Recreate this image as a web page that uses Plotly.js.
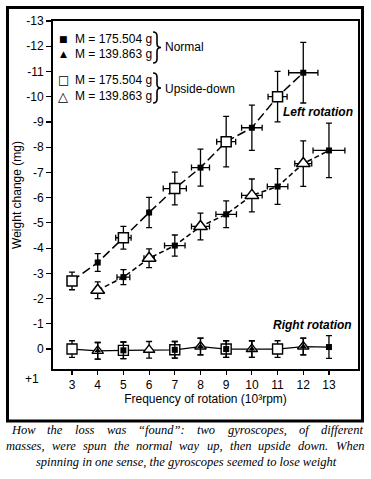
<!DOCTYPE html>
<html>
<head>
<meta charset="utf-8">
<script src="https://cdn.plot.ly/plotly-3.0.1.min.js"></script>
<style>
html,body{margin:0;padding:0;background:#fff;}
#chart{width:371px;height:479px;}
</style>
</head>
<body>
<div id="chart"></div>
<script>
// ---------- data ----------
// Left rotation, heavier gyroscope (M = 175.504 g)
const upNormalX = [4, 6, 8, 10, 12];
const upNormalY = [-3.43, -5.41, -7.19, -8.77, -10.95];
const upNormalErrY = [0.35, 0.6, 0.73, 0.9, 1.2];
const upNormalErrX = [0, 0, 0.35, 0.4, 0.57];
const upInvX = [3, 5, 7, 9, 11];
const upInvY = [-2.70, -4.41, -6.36, -8.22, -10.0];
const upInvErrY = [0.35, 0.45, 0.65, 1.0, 1.0];
const upInvErrX = [0, 0.3, 0.45, 0.37, 0.37];
// Left rotation, lighter gyroscope (M = 139.863 g)
const loNormalX = [5, 7, 9, 11, 13];
const loNormalY = [-2.85, -4.1, -5.34, -6.44, -7.87];
const loNormalErrY = [0.3, 0.42, 0.53, 0.71, 1.08];
const loNormalErrX = [0.25, 0.4, 0.4, 0.4, 0.62];
const loInvX = [4, 6, 8, 10, 12];
const loInvY = [-2.33, -3.6, -4.86, -6.09, -7.35];
const loInvErrY = [0.33, 0.37, 0.53, 0.65, 0.9];
const loInvErrX = [0, 0.2, 0.35, 0.4, 0.33];
// Right rotation (no change)
const rightX = [3, 4, 5, 6, 7, 8, 9, 10, 11, 12, 13];
const rightY = [0, 0.07, 0.05, 0.03, 0.03, -0.1, 0, 0, 0, -0.1, -0.08];
const rightErrY = [0.33, 0.33, 0.33, 0.33, 0.33, 0.33, 0.33, 0.33, 0.33, 0.33, 0.45];
const rightOpenX = [3, 4, 5, 6, 7, 8, 9, 10, 11, 12];
const rightFilledX = [4, 5, 7, 8, 9, 10, 12, 13];
// ticks
const xTicks = [3, 4, 5, 6, 7, 8, 9, 10, 11, 12, 13];
const yTickVals = [-13, -12, -11, -10, -9, -8, -7, -6, -5, -4, -3, -2, -1, 0];
const yTickText = ['-13', '-12', '-11', '-10', '-9', '-8', '-7', '-6', '-5', '-4', '-3', '-2', '-1', '0'];
const legendMasses = ['M = 175.504 g', 'M = 139.863 g'];
const captionLines = [
  'How the loss was \u201cfound\u201d: two gyroscopes, of different',
  'masses, were spun the normal way up, then upside down. When',
  'spinning in one sense, the gyroscopes seemed to lose weight'
];

// ---------- helpers ----------
const M = {l: 53, r: 13, t: 21, b: 110};
const W = 371, H = 479;
const PW = W - M.l - M.r, PH = H - M.t - M.b;
const px = x => (x - M.l) / PW;
const py = y => (H - M.b - y) / PH;

function merge(ax, ay, bx, by) {
  const pts = ax.map((x, i) => [x, ay[i]]).concat(bx.map((x, i) => [x, by[i]]));
  pts.sort((a, b) => a[0] - b[0]);
  return {x: pts.map(p => p[0]), y: pts.map(p => p[1])};
}
function pick(xs, allX, vals) { return xs.map(x => vals[allX.indexOf(x)]); }

const K = 'black';
function errY(arr) { return {type: 'data', array: arr, visible: true, color: K, thickness: 1.3, width: 3}; }
function errX(arr) { return {type: 'data', array: arr, visible: true, color: K, thickness: 1.3, width: 3}; }

const upLine = merge(upInvX, upInvY, upNormalX, upNormalY);
const loLine = merge(loInvX, loInvY, loNormalX, loNormalY);

const traces = [
  {x: upLine.x, y: upLine.y, mode: 'lines', line: {color: K, width: 1.5, dash: '9px,4px'}, hoverinfo: 'skip'},
  {x: loLine.x, y: loLine.y, mode: 'lines', line: {color: K, width: 1.5, dash: '5px,3px'}, hoverinfo: 'skip'},
  {x: rightX, y: rightY, mode: 'lines', line: {color: K, width: 1.3}, hoverinfo: 'skip'},
  // left rotation markers
  {x: upInvX, y: upInvY, mode: 'markers', error_y: errY(upInvErrY), error_x: errX(upInvErrX),
   marker: {symbol: 'square', size: 10, color: 'white', line: {color: K, width: 1.5}}},
  {x: upNormalX, y: upNormalY, mode: 'markers', error_y: errY(upNormalErrY), error_x: errX(upNormalErrX),
   marker: {symbol: 'square', size: 6, color: K}},
  {x: loInvX, y: loInvY, mode: 'markers', error_y: errY(loInvErrY), error_x: errX(loInvErrX),
   marker: {symbol: 'triangle-up', size: 12, color: 'white', line: {color: K, width: 1.5}}},
  {x: loNormalX, y: loNormalY, mode: 'markers', error_y: errY(loNormalErrY), error_x: errX(loNormalErrX),
   marker: {symbol: 'square', size: 6, color: K}},
  // right rotation markers
  {x: rightOpenX, y: pick(rightOpenX, rightX, rightY), mode: 'markers',
   error_y: errY(pick(rightOpenX, rightX, rightErrY)),
   marker: {symbol: rightOpenX.map(x => x % 2 ? 'square' : 'triangle-up'), size: 10, color: 'white', line: {color: K, width: 1.4}}},
  {x: rightFilledX, y: pick(rightFilledX, rightX, rightY), mode: 'markers',
   error_y: errY(pick(rightFilledX, rightX, rightErrY)),
   marker: {symbol: rightFilledX.map(x => x % 2 ? 'square' : 'triangle-up'), size: 6, color: K}}
];

const FONT = 'Liberation Sans, Arial, sans-serif';
const ann = [];
function txt(text, x, y, opts) {
  ann.push(Object.assign({xref: 'paper', yref: 'paper', x: px(x), y: py(y), text: text, showarrow: false,
    xanchor: 'left', yanchor: 'middle', font: {family: FONT, size: 12, color: K}}, opts || {}));
}
// legend
txt('\u25A0', 63, 39, {xanchor: 'center', borderpad: 0, font: {family: 'DejaVu Sans', size: 9, color: K}});
txt('\u25B2', 63, 54, {xanchor: 'center', borderpad: 0, font: {family: 'DejaVu Sans', size: 9, color: K}});
txt('\u25A1', 63, 80, {xanchor: 'center', borderpad: 0, font: {family: 'DejaVu Sans', size: 12, color: K}});
txt('\u25B3', 63, 96, {xanchor: 'center', borderpad: 0, font: {family: 'DejaVu Sans', size: 13, color: K}});
txt(legendMasses[0], 73, 39);
txt(legendMasses[1], 73, 54);
txt(legendMasses[0], 73, 80);
txt(legendMasses[1], 73, 96);
txt('Normal', 163, 47);
txt('Upside-down', 163, 89);
txt('<b><i>Left rotation</i></b>', 281, 112);
txt('<b><i>Right rotation</i></b>', 271, 325);
txt('+1', 41, 379, {xanchor: 'right'});

// caption (justified)
const capSize = 12.5;
const cv = document.createElement('canvas').getContext('2d');
function wTxt(s, size) { cv.font = 'italic ' + size + 'px "Liberation Serif"'; return cv.measureText(s).width; }
function justify(line, left, right, yPx) {
  const words = line.split(' ');
  const ws = words.map(w => wTxt(w, capSize));
  const gap = (right - left - ws.reduce((a, b) => a + b, 0)) / (words.length - 1);
  let x = left;
  words.forEach((w, i) => {
    ann.push({xref: 'paper', yref: 'paper', x: px(x), y: py(yPx), text: '<i>' + w + '</i>', showarrow: false,
      xanchor: 'left', yanchor: 'middle', borderpad: 0, font: {family: 'Liberation Serif', size: capSize, color: K}});
    x += ws[i] + gap;
  });
}
justify(captionLines[0], 10, 362, 430);
justify(captionLines[1], 5, 363, 446);
ann.push({xref: 'paper', yref: 'paper', x: px(186), y: py(462), text: '<i>' + captionLines[2] + '</i>', showarrow: false,
  xanchor: 'center', yanchor: 'middle', borderpad: 0, font: {family: 'Liberation Serif', size: capSize, color: K}});

// braces and frame
function brace(x0, y0, y1) {
  const xm = x0 + 4, xt = x0 + 8, ym = (y0 + y1) / 2, r = 4;
  const P = (x, y) => px(x).toFixed(4) + ',' + py(y).toFixed(4);
  return 'M' + P(x0, y0) + ' Q' + P(xm, y0) + ' ' + P(xm, y0 + r) + ' L' + P(xm, ym - r) +
    ' Q' + P(xm, ym) + ' ' + P(xt, ym) + ' Q' + P(xm, ym) + ' ' + P(xm, ym + r) +
    ' L' + P(xm, y1 - r) + ' Q' + P(xm, y1) + ' ' + P(x0, y1);
}
const shapes = [
  {type: 'rect', xref: 'paper', yref: 'paper', x0: px(7.5), x1: px(362.5), y0: py(7.5), y1: py(421), line: {color: K, width: 3}},
  {type: 'path', xref: 'paper', yref: 'paper', path: brace(153, 32, 63), line: {color: K, width: 1.6}},
  {type: 'path', xref: 'paper', yref: 'paper', path: brace(153, 73, 103), line: {color: K, width: 1.6}}
];

const layout = {
  width: W, height: H, margin: M, showlegend: false,
  paper_bgcolor: 'white', plot_bgcolor: 'white',
  font: {family: FONT, size: 12, color: K},
  xaxis: {range: [2.26, 14.13], tickvals: xTicks, ticks: 'outside', ticklen: 4, tickwidth: 1.2, tickcolor: K,
    showgrid: false, zeroline: false, showline: true, linewidth: 2, linecolor: K, mirror: true,
    tickfont: {size: 12}, title: {text: 'Frequency of rotation (10\u00b3rpm)', font: {size: 12}, standoff: 1}},
  yaxis: {range: [0.79, -13], tickvals: yTickVals, ticktext: yTickText, ticks: 'outside', ticklen: 5, tickwidth: 1.2, tickcolor: K,
    showgrid: false, zeroline: false, showline: true, linewidth: 2, linecolor: K, mirror: true,
    tickfont: {size: 12}, title: {text: 'Weight change (mg)', font: {size: 12}, standoff: 2}},
  annotations: ann, shapes: shapes
};
Plotly.newPlot('chart', traces, layout, {staticPlot: true, displayModeBar: false});
</script>
</body>
</html>
